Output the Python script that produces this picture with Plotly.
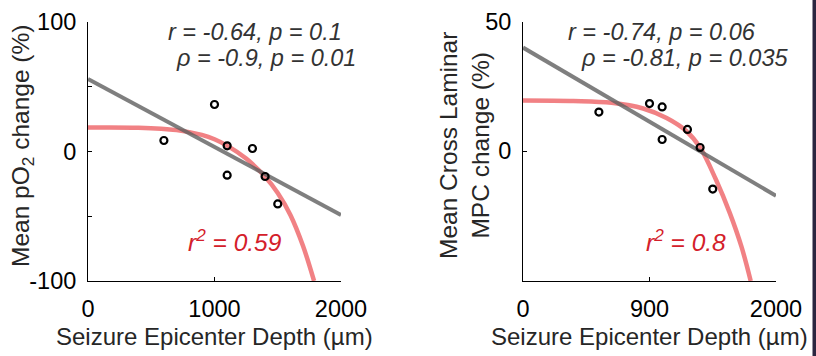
import plotly.graph_objects as go
from plotly.subplots import make_subplots

W, H = 816, 356

# ---------------- data ----------------
# Left panel: mean pO2 change
po2_depth = [600, 1000, 1100, 1100, 1300, 1400, 1500]
po2_change = [8.5, 36.3, 4.4, -18.3, 2.3, -19.3, -40.5]
po2_lin_x = [0, 2000]
po2_lin_y = [56, -49]
po2_fit_x = [0, 400, 700, 900, 1000, 1100, 1250, 1400, 1500, 1600, 1700, 1787]
po2_fit_y = [18.5, 18.3, 16.5, 12.8, 9.5, 4.5, -5.5, -19.5, -32, -49, -73, -100]

# Right panel: mean cross laminar MPC change
mpc_depth = [600, 1000, 1100, 1100, 1300, 1400, 1500]
mpc_change = [15.1, 18.4, 17.1, 4.5, 8.4, 1.4, -14.7]
mpc_lin_x = [0, 2000]
mpc_lin_y = [40.1, -17.3]
mpc_fit_x = [0, 400, 700, 950, 1135, 1290, 1400, 1525, 1635, 1727, 1800]
mpc_fit_y = [19.6, 19.4, 18.7, 16.5, 12.8, 7.8, 1.4, -11, -24, -37, -50.3]

# ticks
left_xtick_vals = [0, 1000, 2000]
left_xtick_text = ["0", "1000", "2000"]
left_ytick_vals = [-100, 0, 100]
left_ytick_text = ["-100", "0", "100"]
left_yminor_vals = [-50, 50]
right_xtick_vals = [0, 1000, 2000]
right_xtick_text = ["0", "900", "2000"]
right_ytick_vals = [0, 50]
right_ytick_text = ["0", "50"]
right_yminor_vals = [-50]

GRAY = "rgba(95,95,95,0.8)"
RED = "rgba(236,80,84,0.72)"
FONT = "Liberation Sans, Arial, sans-serif"


def px(x):
    return x / W


def py(y):
    return 1 - y / H


fig = make_subplots(rows=1, cols=2)

for col, (dx, dy, lx, ly, fx, fy) in enumerate([
    (po2_depth, po2_change, po2_lin_x, po2_lin_y, po2_fit_x, po2_fit_y),
    (mpc_depth, mpc_change, mpc_lin_x, mpc_lin_y, mpc_fit_x, mpc_fit_y),
], start=1):
    fig.add_trace(go.Scatter(x=fx, y=fy, mode="lines", line=dict(color=RED, width=4.5, shape="spline"),
                             hoverinfo="skip", showlegend=False), row=1, col=col)
    fig.add_trace(go.Scatter(x=lx, y=ly, mode="lines", line=dict(color=GRAY, width=4),
                             hoverinfo="skip", showlegend=False), row=1, col=col)
    fig.add_trace(go.Scatter(x=dx, y=dy, mode="markers",
                             marker=dict(symbol="circle-open", size=7, color="black", line=dict(width=2.2, color="black")),
                             showlegend=False), row=1, col=col)

axis_common = dict(showgrid=False, zeroline=False, showline=True, linecolor="black", linewidth=1,
                   ticks="inside", ticklen=4, tickcolor="black", tickwidth=1, automargin=False,
                   tickfont=dict(family=FONT, size=23.5, color="black"))

fig.update_xaxes(**axis_common, ticklabelstandoff=7)
fig.update_yaxes(**axis_common, ticklabelstandoff=6)

fig.update_xaxes(range=[0, 2000], tickvals=left_xtick_vals, ticktext=left_xtick_text,
                 domain=[px(88), px(341)], row=1, col=1)
fig.update_yaxes(range=[-100, 100], tickvals=left_ytick_vals, ticktext=left_ytick_text,
                 minor=dict(tickvals=left_yminor_vals, ticks="inside", ticklen=4, tickcolor="black", showgrid=False),
                 domain=[py(281), py(22)], row=1, col=1)
fig.update_xaxes(range=[0, 2000], tickvals=right_xtick_vals, ticktext=right_xtick_text,
                 domain=[px(523), px(776)], row=1, col=2)
fig.update_yaxes(range=[-50.3, 50], tickvals=right_ytick_vals, ticktext=right_ytick_text,
                 minor=dict(tickvals=right_yminor_vals, ticks="inside", ticklen=4, tickcolor="black", showgrid=False),
                 domain=[py(281), py(22)], row=1, col=2)

annots = []


def ann(text, x, y, size=22, color="#262626", xanchor="left", angle=0):
    annots.append(dict(text=text, x=px(x), y=py(y), xref="paper", yref="paper", showarrow=False,
                       xanchor=xanchor, yanchor="middle", textangle=angle,
                       font=dict(family=FONT, size=size, color=color)))


# stats text
ann("<i>r = -0.64, p = 0.1</i>", 166, 32, size=23.5, color="#333333")
ann("<i>ρ = -0.9, p = 0.01</i>", 174, 58, size=23.5, color="#333333")
ann("<i>r = -0.74, p = 0.06</i>", 566, 32, size=23.5, color="#333333")
ann("<i>ρ = -0.81, p = 0.035</i>", 579, 58, size=23.5, color="#333333")
ann("<i>r<sup>2</sup> = 0.59</i>", 186, 240, size=24.5, color="#d4202a")
ann("<i>r<sup>2</sup> = 0.8</i>", 644, 240, size=24.5, color="#d4202a")

# axis titles
ann("Seizure Epicenter Depth (µm)", 214.5, 336, size=24, xanchor="center")
ann("Seizure Epicenter Depth (µm)", 649.5, 336, size=24, xanchor="center")
ann("Mean pO<sub>2</sub> change (%)", 22, 146, size=24.5, xanchor="center", angle=-90)
ann("Mean Cross Laminar<br>MPC change (%)", 464, 146, size=24.5, xanchor="center", angle=-90)

fig.update_layout(
    width=W, height=H,
    margin=dict(l=0, r=0, t=0, b=0, pad=0),
    paper_bgcolor="white", plot_bgcolor="white",
    annotations=annots,
    shapes=[dict(type="rect", xref="paper", yref="paper", x0=px(812.5), x1=1, y0=0, y1=1,
                 fillcolor="#2b2640", line=dict(width=0))],
)

fig.write_html("out.html", config={"displayModeBar": False},
               post_script="document.body.style.margin='0';document.body.style.overflow='hidden';")
